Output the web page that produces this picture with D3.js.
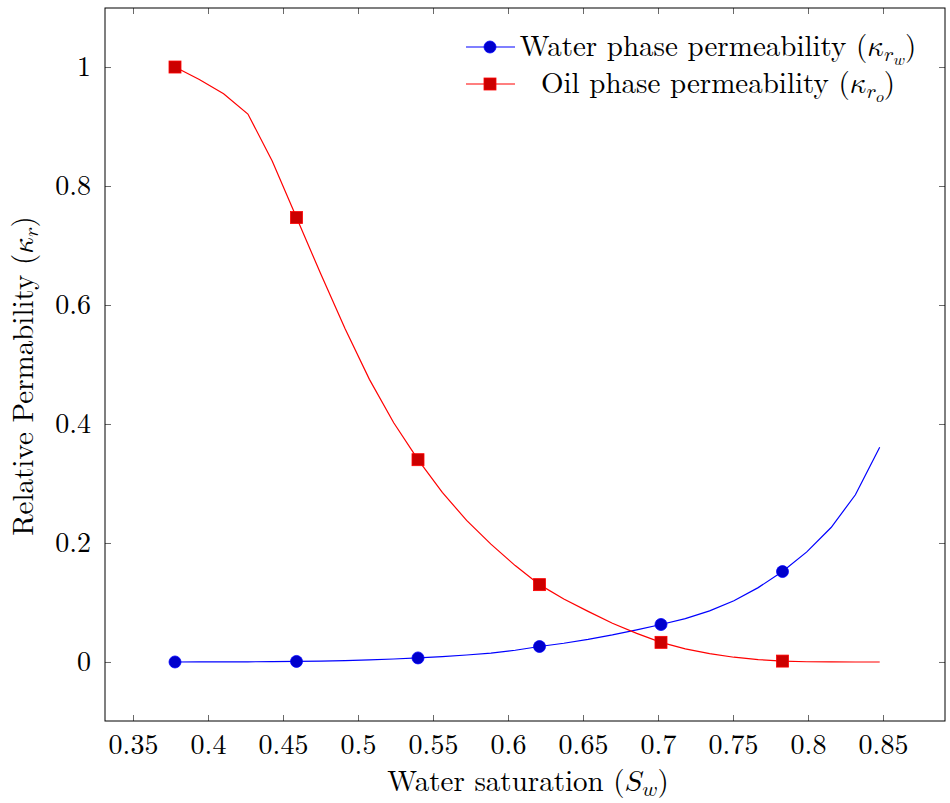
<!DOCTYPE html>
<html>
<head>
<meta charset="utf-8">
<script src="https://cdn.jsdelivr.net/npm/d3@7"></script>
<style>
  body { margin: 0; background: #fff; }
</style>
</head>
<body>
<div class="main"></div>
<script>
////Data (samples every 0.0162 of Sw)
const sw = [0.378, 0.3942, 0.4104, 0.4266, 0.4428, 0.459, 0.4752, 0.4914, 0.5076, 0.5238,
  0.540, 0.5562, 0.5724, 0.5886, 0.6048, 0.621, 0.6372, 0.6534, 0.6696, 0.6858,
  0.702, 0.7182, 0.7344, 0.7506, 0.7668, 0.783, 0.7992, 0.8154, 0.8316, 0.8478];
const krw = [0, 0.00002, 0.0001, 0.0003, 0.0006, 0.0009, 0.0015, 0.0024, 0.0036, 0.005,
  0.0068, 0.009, 0.0117, 0.015, 0.0197, 0.026, 0.0315, 0.038, 0.0455, 0.054,
  0.063, 0.073, 0.086, 0.103, 0.125, 0.152, 0.185, 0.226, 0.281, 0.361];
const kro = [1, 0.979, 0.955, 0.921, 0.842, 0.747, 0.652, 0.56, 0.475, 0.402,
  0.34, 0.285, 0.238, 0.198, 0.162, 0.13, 0.106, 0.085, 0.065, 0.048,
  0.033, 0.022, 0.014, 0.008, 0.004, 0.0015, 0.0004, 0.0001, 0, 0];
const markEvery = 5;
const xTicks = [0.35, 0.4, 0.45, 0.5, 0.55, 0.6, 0.65, 0.7, 0.75, 0.8, 0.85];
const yTicks = [0, 0.2, 0.4, 0.6, 0.8, 1];

////Global Variables
const width = 950;
const height = 803;
const padLeft = 105, padTop = 8, padRight = 945, padBottom = 721;
const fs = 29;
const fontText = "font-family:'Latin Modern Roman','Liberation Serif',serif";
const fontMath = "font-family:'Latin Modern Math','Latin Modern Roman',serif";
const svg = d3.select('.main').append('svg')
  .attr('width', width)
  .attr('height', height);

const xScale = d3.scaleLinear().domain([0.33133, 0.89133]).range([padLeft, padRight]);
const yScale = d3.scaleLinear().domain([-0.0992, 1.0992]).range([padBottom, padTop]);

////Ticks on all four sides, pointing inward
const tickLen = 6;
const fmt = d => String(+d.toFixed(2));
const axes = svg.append('g');
axes.append('g').attr('transform', `translate(0, ${padBottom})`)
  .call(d3.axisBottom(xScale).tickValues(xTicks).tickSizeInner(-tickLen).tickSizeOuter(0).tickPadding(13).tickFormat(fmt));
axes.append('g').attr('transform', `translate(0, ${padTop})`)
  .call(d3.axisTop(xScale).tickValues(xTicks).tickSizeInner(-tickLen).tickSizeOuter(0).tickFormat(''));
axes.append('g').attr('transform', `translate(${padLeft}, 0)`)
  .call(d3.axisLeft(yScale).tickValues(yTicks).tickSizeInner(-tickLen).tickSizeOuter(0).tickPadding(14).tickFormat(fmt));
axes.append('g').attr('transform', `translate(${padRight}, 0)`)
  .call(d3.axisRight(yScale).tickValues(yTicks).tickSizeInner(-tickLen).tickSizeOuter(0).tickFormat(''));
axes.selectAll('.domain').remove();
axes.selectAll('.tick line').attr('stroke', '#444').attr('stroke-width', 0.8);
axes.selectAll('.tick text').attr('style', fontText + ';font-size:28px').attr('fill', '#000');

svg.append('rect')
  .attr('x', padLeft).attr('y', padTop)
  .attr('width', padRight - padLeft).attr('height', padBottom - padTop)
  .attr('fill', 'none').attr('stroke', '#000').attr('stroke-width', 1);

////Curves
const line = d3.line().x(d => xScale(d[0])).y(d => yScale(d[1]));
const water = sw.map((s, i) => [s, krw[i]]);
const oil = sw.map((s, i) => [s, kro[i]]);

svg.append('path').datum(water).attr('d', line)
  .attr('fill', 'none').attr('stroke', '#0000ff').attr('stroke-width', 1.2);
svg.append('path').datum(oil).attr('d', line)
  .attr('fill', 'none').attr('stroke', '#ff0000').attr('stroke-width', 1.2);

svg.selectAll('circle.w').data(water.filter((d, i) => i % markEvery === 0)).enter()
  .append('circle').attr('class', 'w')
  .attr('cx', d => xScale(d[0])).attr('cy', d => yScale(d[1])).attr('r', 6)
  .attr('fill', '#0000cc').attr('stroke', '#0000ff').attr('stroke-width', 0.8);
const sq = 12;
svg.selectAll('rect.o').data(oil.filter((d, i) => i % markEvery === 0)).enter()
  .append('rect').attr('class', 'o')
  .attr('x', d => xScale(d[0]) - sq / 2).attr('y', d => yScale(d[1]) - sq / 2)
  .attr('width', sq).attr('height', sq)
  .attr('fill', '#cc0000').attr('stroke', '#ff0000').attr('stroke-width', 0.8);

////Labels with math subscripts
function mathLabel(g, parts) {
  parts.forEach(p => {
    const t = g.append('tspan').text(p.t)
      .attr('style', (p.m ? fontMath : fontText) + ';font-size:' + (p.fs || fs) + 'px');
    if (p.dy) t.attr('dy', p.dy);
  });
}

const xl = svg.append('text').attr('x', 528).attr('y', 791)
  .attr('text-anchor', 'middle');
mathLabel(xl, [{t: 'Water saturation ('}, {t: '𝑆', m: true}, {t: '𝑤', m: true, fs: 21, dy: 5}, {t: ')', dy: -5}]);

const yl = svg.append('text').attr('transform', 'translate(33, 376) rotate(-90)')
  .attr('text-anchor', 'middle');
mathLabel(yl, [{t: 'Relative Permability ('}, {t: '𝜅', m: true}, {t: '𝑟', m: true, fs: 21, dy: 5}, {t: ')', dy: -5}]);

////Legend
const legend = svg.append('g');
const entries = [
  {y: 47, stroke: '#0000ff', fill: '#0000cc', shape: 'circle', sub: '𝑤', text: 'Water phase permeability ('},
  {y: 84, stroke: '#ff0000', fill: '#cc0000', shape: 'square', sub: '𝑜', text: 'Oil phase permeability ('}
];
entries.forEach(e => {
  legend.append('line').attr('x1', 466).attr('x2', 515).attr('y1', e.y).attr('y2', e.y)
    .attr('stroke', e.stroke).attr('stroke-width', 1.2);
  if (e.shape === 'circle') {
    legend.append('circle').attr('cx', 490).attr('cy', e.y).attr('r', 6)
      .attr('fill', e.fill).attr('stroke', e.stroke).attr('stroke-width', 0.8);
  } else {
    legend.append('rect').attr('x', 490 - sq / 2).attr('y', e.y - sq / 2).attr('width', sq).attr('height', sq)
      .attr('fill', e.fill).attr('stroke', e.stroke).attr('stroke-width', 0.8);
  }
  const t = legend.append('text').attr('x', 718).attr('y', e.y + 9)
    .attr('text-anchor', 'middle');
  mathLabel(t, [{t: e.text}, {t: '𝜅', m: true}, {t: '𝑟', m: true, fs: 21, dy: 5},
    {t: e.sub, m: true, fs: 16, dy: 4}, {t: ')', dy: -9}]);
});
</script>
</body>
</html>
